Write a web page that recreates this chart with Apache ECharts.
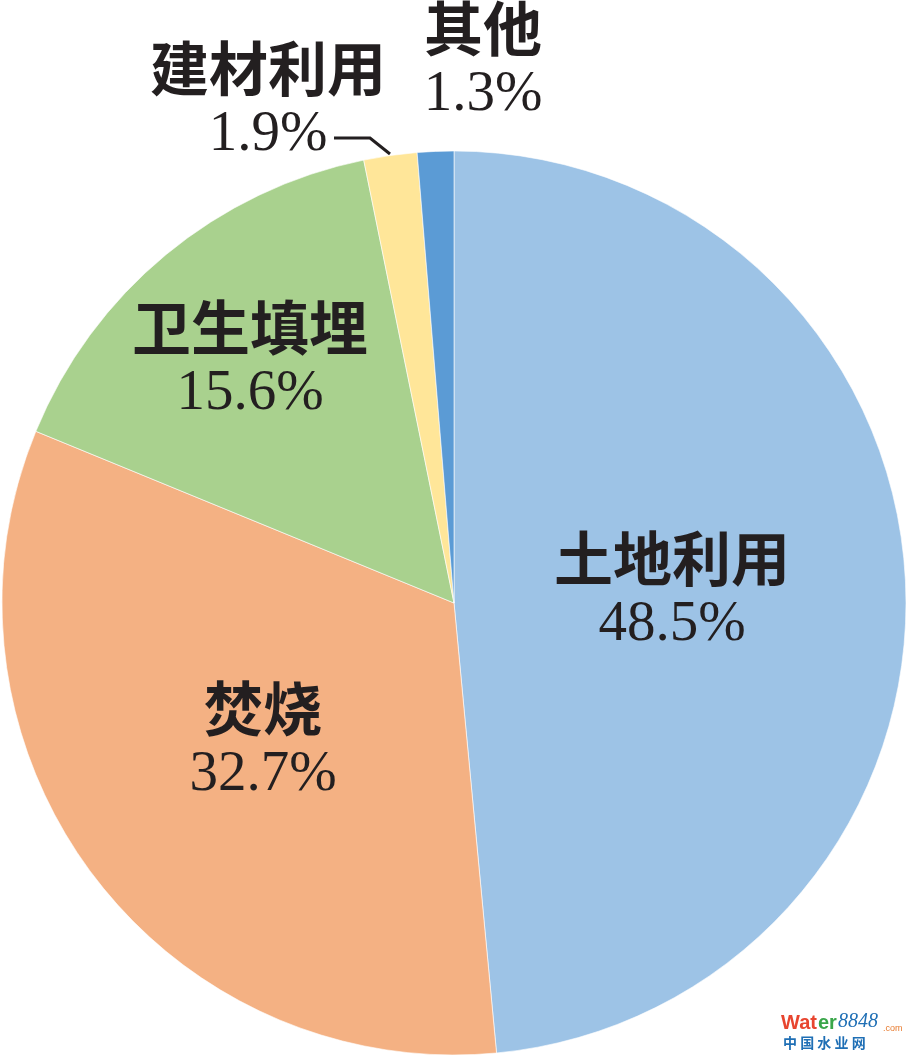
<!DOCTYPE html>
<html>
<head>
<meta charset="utf-8">
<script src="https://cdn.jsdelivr.net/npm/echarts@6/dist/echarts.min.js"></script>
<style>html,body{margin:0;padding:0;background:#fff;}#c{width:909px;height:1059px;}</style>
</head>
<body>
<div id="c"></div>
<script>
const categories = ['土地利用', '焚烧', '卫生填埋', '建材利用', '其他'];
const values = [48.5, 32.7, 15.6, 1.9, 1.3];
const colors = ['#9DC3E6', '#F4B183', '#A9D18E', '#FFE699', '#5B9BD5'];
const labelCenters = [[672, 592], [263, 742], [250, 361], [268, 102], [483, 62]];

const chart = echarts.init(document.getElementById('c'), null, {renderer: 'canvas'});
const data = categories.map((n, i) => ({
  name: n,
  value: values[i],
  itemStyle: {color: colors[i]},
  labelLine: {show: i === 3}
}));

chart.setOption({
  animation: false,
  backgroundColor: '#fff',
  series: [{
    type: 'pie',
    center: [454, 603],
    radius: [0, 452],
    startAngle: 90,
    clockwise: true,
    avoidLabelOverlap: false,
    data: data,
    itemStyle: {borderColor: '#fff', borderWidth: 0.6},
    label: {
      show: true,
      position: 'outside',
      overflow: 'none',
      formatter: p => '{n|' + p.name + '}\n{p|' + p.value.toFixed(1) + '%}',
      rich: {
        n: {fontSize: 59, fontWeight: 'bold', fontFamily: 'Noto Sans CJK SC', color: '#231f20', lineHeight: 66, align: 'center'},
        p: {fontSize: 57, fontFamily: 'Liberation Serif', color: '#231f20', lineHeight: 66, align: 'center'}
      }
    },
    labelLine: {show: false, lineStyle: {color: '#231f20', width: 3}},
    labelLayout: function (params) {
      const c = labelCenters[params.dataIndex];
      const r = {x: c[0], y: c[1], align: 'center', verticalAlign: 'middle', hideOverlap: false};
      if (params.dataIndex === 3) {
        r.labelLinePoints = [[390, 154], [370, 138], [334, 138]];
      }
      return r;
    }
  }],
  graphic: [
    {type: 'text', left: 781, top: 1013, style: {text: 'Wat', fontSize: 20, fontWeight: 'bold', fontFamily: 'Liberation Sans', fill: '#e8452f'}},
    {type: 'text', left: 818, top: 1013, style: {text: 'er', fontSize: 20, fontWeight: 'bold', fontFamily: 'Liberation Sans', fill: '#3aa64a'}},
    {type: 'text', left: 838, top: 1012, style: {text: '8848', fontSize: 20, fontStyle: 'italic', fontFamily: 'Liberation Serif', fill: '#1f6fb5'}},
    {type: 'text', left: 883, top: 1024, style: {text: '.com', fontSize: 9, fontFamily: 'Liberation Sans', fill: '#e87b2f'}},
    {type: 'text', left: 783, top: 1036, style: {text: '中 国 水 业 网', fontSize: 14, fontWeight: 'bold', fontFamily: 'Noto Sans CJK SC', fill: '#1f6fb5'}}
  ]
});
</script>
</body>
</html>
